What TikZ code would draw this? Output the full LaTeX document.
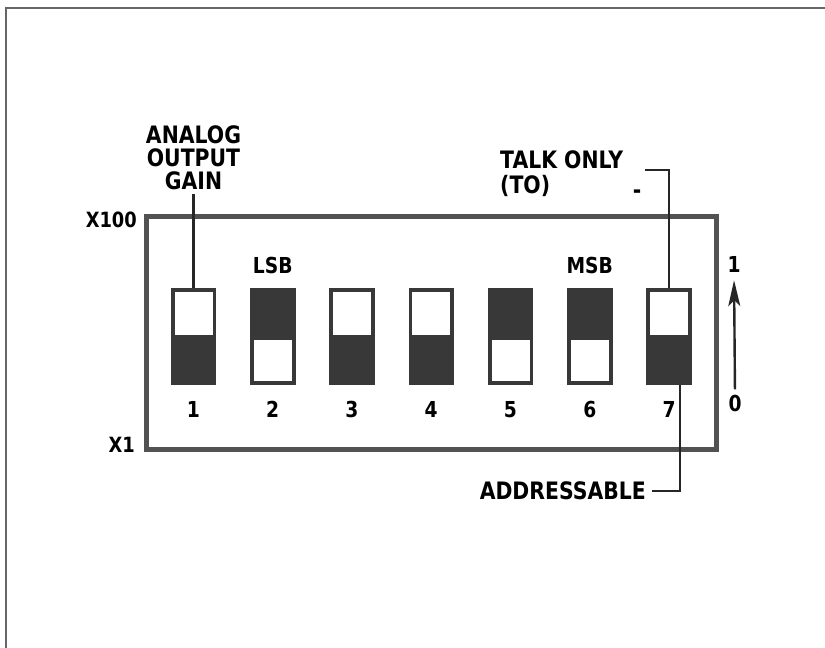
\documentclass[tikz,border=0pt]{standalone}
\usepackage{fontspec}
\setmainfont{DejaVu Sans}[FakeStretch=0.85]
\usetikzlibrary{arrows.meta, positioning}

\begin{document}
\begin{tikzpicture}[
		x=1pt, y=-1pt,
		node distance=33.75pt and 33.75pt,
		every node/.style={inner sep=0pt, font=\fontsize{24}{23}\selectfont\bfseries},
		digit/.style={font=\fontsize{22}{22}\selectfont\bfseries},
		sidelabel/.style={font=\fontsize{21}{21}\selectfont\bfseries},
		panel/.style={draw=black!68, line width=5pt, minimum width=570pt, minimum height=233pt},
		switch/.style={draw=black!78, fill=black!78, line width=1.5pt, minimum width=44pt, minimum height=95.5pt},
		swup/.style={switch, path picture={\fill[white] ([xshift=3pt,yshift=-3pt]path picture bounding box.north west) rectangle ([xshift=-3pt,yshift=2pt]path picture bounding box.east);}},
		swdown/.style={switch, path picture={\fill[white] ([xshift=3pt,yshift=-3pt]path picture bounding box.west) rectangle ([xshift=-3pt,yshift=3pt]path picture bounding box.south east);}},
		leader/.style={draw=black!85, line width=2.4pt},
		arrow/.style={-{Stealth[length=26pt, width=12pt, inset=6pt]}, draw=black!85, line width=2.4pt}
	]
	
		\useasboundingbox (0,0) rectangle (825,648);
		\draw[black!60, line width=1.5pt] (6,648) |- (825,8);
	
		% Nodes
		\node[panel] (panel) at (431,332.5) {};
		\node[swup] (sw1) at (193.5,336.5) {};
		\node[swdown, right=of sw1] (sw2) {};
		\node[swup, right=of sw2] (sw3) {};
		\node[swup, right=of sw3] (sw4) {};
		\node[swdown, right=of sw4] (sw5) {};
		\node[swdown, right=of sw5] (sw6) {};
		\node[swup, right=of sw6] (sw7) {};
		
		\node[digit, below=16pt of sw1] (n1) {1};
		\node[digit, below=16pt of sw2] (n2) {2};
		\node[digit, below=16pt of sw3] (n3) {3};
		\node[digit, below=16pt of sw4] (n4) {4};
		\node[digit, below=16pt of sw5] (n5) {5};
		\node[digit, below=16pt of sw6] (n6) {6};
		\node[digit, below=16pt of sw7] (n7) {7};
		
		\node[digit, above=14pt of sw2] (lsb) {LSB};
		\node[digit, above=14pt of sw6] (msb) {MSB};
		
		\node[above=98pt of sw1, align=center] (gain) {ANALOG\\OUTPUT\\GAIN};
		\node[anchor=base west] (talk) at (500,168) {TALK ONLY};
		\node[anchor=base west] (to) at (500,193) {(TO)};
		\node[anchor=base] (dash) at (637,198) {-};
		\coordinate (talkend) at (645,170);
		\node[anchor=east] (addr) at (646,491) {ADDRESSABLE};
		
		\node[sidelabel, anchor=east] (xhundred) at (137,220) {X100};
		\node[sidelabel, anchor=east] (xone) at (135,445) {X1};
		
		\node[digit] (one) at (734,264) {1};
		\node[digit] (zero) at (735,403) {0};
		
		% Arrows
		\draw[leader, shorten <=4pt] (gain.south) -- (sw1.north);
		\draw[leader] (talkend) -| (sw7.north);
		\draw[leader] ([xshift=11pt]sw7.south) |- ([xshift=6pt]addr.east);
		\draw[arrow, shorten <=5pt, shorten >=8pt] (zero.north) -- (one.south);
		
	\end{tikzpicture}
\end{document}
